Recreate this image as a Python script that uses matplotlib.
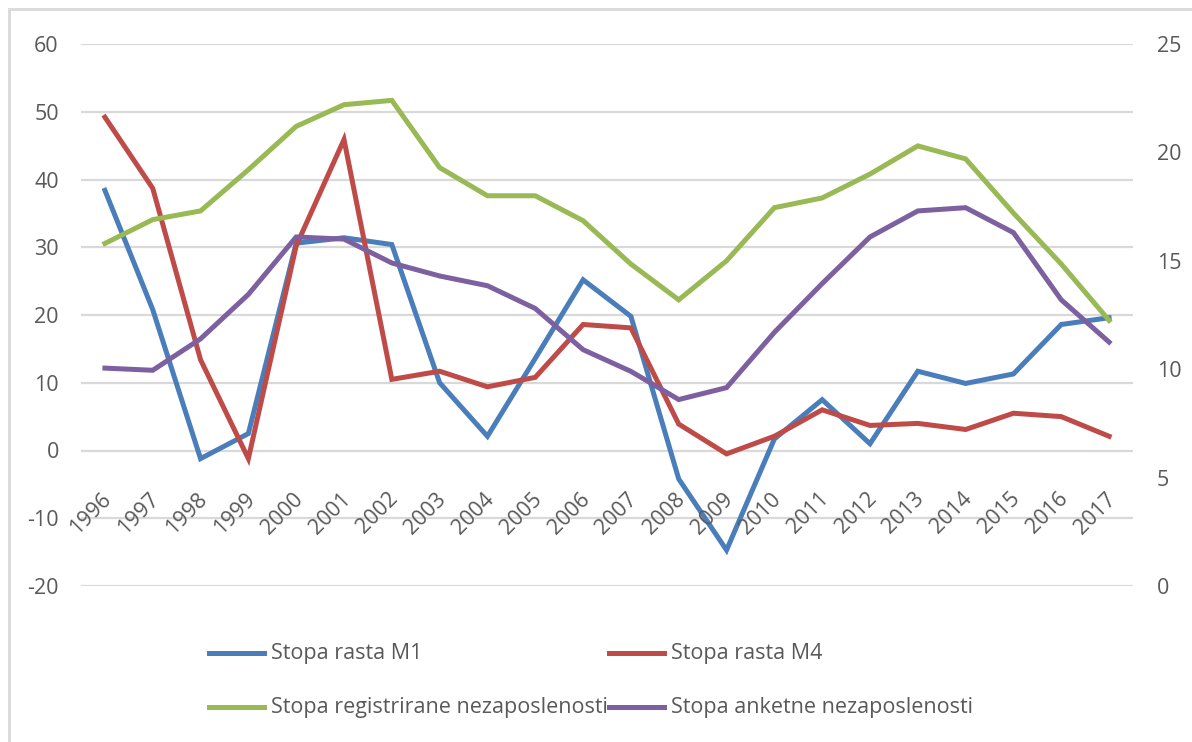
import matplotlib
matplotlib.use("Agg")
import matplotlib.pyplot as plt
from matplotlib.lines import Line2D
from matplotlib.patches import Rectangle
from matplotlib import font_manager

years = [str(y) for y in range(1996, 2018)]
m1 = [38.4, 20.8, -1.2, 2.5, 30.6, 31.4, 30.4, 10.0, 2.1, 13.6, 25.2, 19.8,
      -4.2, -14.7, 1.7, 7.5, 1.0, 11.7, 9.9, 11.3, 18.6, 19.6]
m4 = [49.2, 38.7, 13.4, -1.2, 30.2, 45.9, 10.5, 11.7, 9.4, 10.8, 18.6, 18.1,
      3.9, -0.5, 2.1, 6.0, 3.7, 4.0, 3.1, 5.5, 5.0, 2.1]
reg_unemp = [15.8, 16.9, 17.3, 19.2, 21.2, 22.2, 22.4, 19.3, 18.0, 18.0, 16.85, 14.85,
             13.2, 15.0, 17.45, 17.9, 19.0, 20.3, 19.7, 17.2, 14.85, 12.25]
survey_unemp = [10.05, 9.95, 11.4, 13.45, 16.1, 16.0, 14.9, 14.3, 13.85, 12.8, 10.9, 9.9,
                8.6, 9.15, 11.7, 13.95, 16.1, 17.3, 17.45, 16.3, 13.2, 11.25]

labels = ["Stopa rasta M1", "Stopa rasta M4",
          "Stopa registrirane nezaposlenosti", "Stopa anketne nezaposlenosti"]
colors = ["#4A7EBB", "#BE4B48", "#98B954", "#7D60A0"]

avail = {f.name for f in font_manager.fontManager.ttflist}
fam = [f for f in ["Liberation Sans Narrow", "Open Sans", "DejaVu Sans"] if f in avail]
plt.rcParams["font.family"] = fam
plt.rcParams["axes.unicode_minus"] = False

W, H = 1192, 742
fig = plt.figure(figsize=(W / 100, H / 100), dpi=100)
L, R, T, B = 81, 1133, 44, 586
ax = fig.add_axes([L / W, 1 - B / H, (R - L) / W, (B - T) / H])
ax2 = ax.twinx()

x = list(range(len(years)))
lw = 3.6
ax.plot(x, m1, color=colors[0], lw=lw, solid_joinstyle="miter", zorder=3)
ax.plot(x, m4, color=colors[1], lw=lw, solid_joinstyle="miter", zorder=3)
ax2.plot(x, reg_unemp, color=colors[2], lw=lw, solid_joinstyle="miter", zorder=3)
ax2.plot(x, survey_unemp, color=colors[3], lw=lw, solid_joinstyle="miter", zorder=3)

ax.set_xlim(-0.5, len(years) - 0.5)
ax.set_ylim(-20, 60)
ax2.set_ylim(0, 25)
ax.set_yticks(range(-20, 61, 10))
ax2.set_yticks(range(0, 26, 5))
ax.grid(axis="y", color="#D9D9D9", lw=1.6, zorder=0)
ax.set_axisbelow(True)
for a in (ax, ax2):
    for s in a.spines.values():
        s.set_visible(False)
    a.tick_params(length=0, labelsize=15.5, labelcolor="#595959")
ax.tick_params(axis="y", pad=16)
ax2.tick_params(axis="y", pad=17)
ax.set_xticks([])

for i, yl in enumerate(years):
    ax.annotate(yl, xy=(i, 0), xytext=(-4, -38), textcoords="offset pixels",
                rotation=45, rotation_mode="anchor", ha="right", va="top",
                fontsize=15.5, color="#595959")

# legend (manual placement)
leg_pos = [(209, 653), (609, 653), (209, 707), (609, 707)]
for (lx, ly), lab, c in zip(leg_pos, labels, colors):
    fig.add_artist(Line2D([lx / W, (lx + 55) / W], [1 - ly / H, 1 - ly / H],
                          color=c, lw=lw, transform=fig.transFigure))
    fig.text((lx + 62) / W, 1 - ly / H, lab, fontsize=15.5, color="#595959",
             va="center", ha="left")

fig.add_artist(Rectangle((9 / W, -0.1), 1.2, 1 - 9 / H + 0.1, transform=fig.transFigure,
                         fill=False, edgecolor="#D9D9D9", lw=2))

fig.savefig("out.png", dpi=100)
